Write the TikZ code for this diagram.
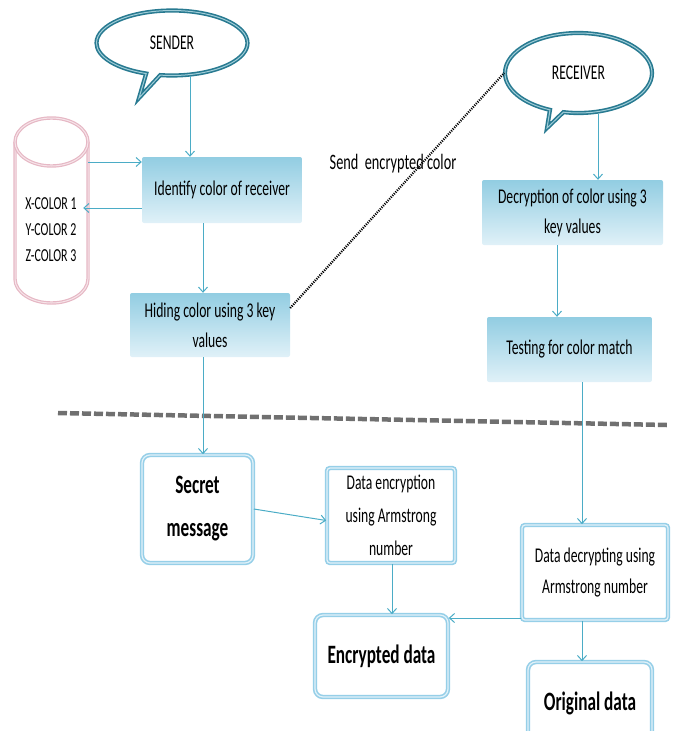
\documentclass[tikz,border=0pt]{standalone}
\usepackage{fontspec}
\setmainfont{Carlito}
\newfontfamily\cf[FakeStretch=0.65]{Carlito}
\usetikzlibrary{shapes.callouts,arrows.meta,calc}
\definecolor{arrc}{RGB}{75,172,198}
\definecolor{tealc}{RGB}{40,122,145}
\definecolor{tealin}{RGB}{160,205,216}
\definecolor{boxtop}{RGB}{146,205,226}
\definecolor{boxbot}{RGB}{224,241,248}
\definecolor{bline}{RGB}{150,207,232}
\definecolor{binner}{RGB}{226,242,249}
\definecolor{pinkc}{RGB}{230,184,197}
\definecolor{pinkin}{RGB}{246,228,233}
\definecolor{dashg}{RGB}{112,112,112}
\begin{document}
\begin{tikzpicture}[x=1pt,y=-1pt,
  txt/.style={font=\cf\fontsize{21}{30}\selectfont, align=center, inner sep=0pt, text=black},
  btxt/.style={font=\cf\bfseries\fontsize{26.5}{43}\selectfont, align=center, inner sep=0pt, text=black},
  gbox/.style={txt, rectangle, rounded corners=2pt, top color=boxtop, bottom color=boxbot},
  bbox/.style={rectangle, draw=bline, line width=1.6pt, double=binner, double distance=1.2pt, fill=white, rounded corners=#1},
  bbox/.default=3pt,
  bubble/.style={txt, ellipse callout, callout pointer arc=11, draw=tealc, line width=1.6pt, double=tealin, double distance=1pt, fill=white},
  arr/.style={draw=arrc, line width=1pt, -{Straight Barb[length=5pt,width=9pt]}},
  dbline/.style={draw=pinkc, line width=1.2pt, double=pinkin, double distance=1pt}
]
\useasboundingbox (0,0) rectangle (677,731);
\clip (0,0) rectangle (677,731);

% callouts
\node[bubble, minimum width=151pt, minimum height=65pt, callout absolute pointer={(139,98)}] (send) at (172,43) {SENDER};
\node[bubble, minimum width=147pt, minimum height=80pt, callout absolute pointer={(547,128)}] (recv) at (578.5,73) {RECEIVER};

% upper boxes
\node[gbox, minimum width=160pt, minimum height=66pt] (ident) at (222,190) {Identify color of receiver};
\node[gbox, minimum width=160pt, minimum height=64pt, text depth=-6pt] (hide) at (210,325) {Hiding color using 3 key\\values};
\node[gbox, minimum width=181pt, minimum height=65pt] (decr) at (572.5,212.5) {Decryption of color using 3\\key values};
\node[gbox, minimum width=165pt, minimum height=65pt] (test) at (569.5,349.5) {Testing for color match};

% cylinder
\node[minimum width=73pt, minimum height=185pt, inner sep=0pt] (db) at (51.5,210.5) {};
\draw[dbline] (15,142) -- (15,279) arc[start angle=180, end angle=360, x radius=36.5pt, y radius=24pt] -- (88,142);
\draw[dbline] (51.5,142) ellipse[x radius=36.5pt, y radius=24pt];
\node[font=\cf\fontsize{18.3}{26}\selectfont, align=center, inner sep=0pt] (dbtxt) at (51,230) {X-COLOR 1\\Y-COLOR 2\\Z-COLOR 3};

% lower boxes
\node[bbox=8pt, btxt, minimum width=111pt, minimum height=108pt] (secret) at (197.5,509) {Secret\\message};
\node[bbox, txt, font=\cf\fontsize{21}{33}\selectfont, minimum width=128pt, minimum height=95pt] (denc) at (391,515.5) {Data encryption\\using Armstrong\\number};
\node[bbox=8pt, btxt, minimum width=133pt, minimum height=82pt] (encd) at (381.5,656) {Encrypted data};
\node[bbox, txt, font=\cf\fontsize{21}{31}\selectfont, minimum width=146pt, minimum height=95pt] (ddec) at (595,572.5) {Data decrypting using\\Armstrong number};
\node[bbox=8pt, btxt, minimum width=124pt, minimum height=82pt] (orig) at (590,703) {Original data};

% label
\node[txt, font=\cf\fontsize{22}{30}\selectfont] (lbl) at (393,164) {Send\ \ encrypted color};

% separator
\coordinate (sepL) at (58,413);
\coordinate (sepR) at (667,425);
\draw[dashg, line width=4.5pt, dash pattern=on 9pt off 3pt] (sepL) -- (sepR);

% dotted connector
\draw[black, line width=2.2pt, dash pattern=on 1.1pt off 1.2pt] ([yshift=17pt]hide.east) -- (recv.west);

% arrows
\coordinate (xa) at (190,0);
\coordinate (xb) at (203,0);
\coordinate (xc) at (598,0);
\coordinate (xd) at (557,0);
\coordinate (xe) at (582,0);
\coordinate (xf) at (392,0);
\coordinate (ya) at (0,162);
\coordinate (yb) at (0,208);
\coordinate (yc) at (0,618);
\draw[arr] (send.south -| xa) -- (ident.north -| xa);
\draw[arr] (db.east |- ya) -- (ident.west |- ya);
\draw[arr] (ident.west |- yb) -- ([xshift=-5pt]db.east |- yb);
\draw[arr] (ident.south -| xb) -- (hide.north -| xb);
\draw[arr] (hide.south -| xb) -- (secret.north -| xb);
\draw[arr] (recv.south -| xc) -- (decr.north -| xc);
\draw[arr] (decr.south -| xd) -- (test.north -| xd);
\draw[arr] (test.south -| xe) -- (ddec.north -| xe);
\draw[arr] (secret.east) -- ([yshift=-5pt]denc.west);
\draw[arr] (denc.south -| xf) -- (encd.north -| xf);
\draw[arr] (ddec.west |- yc) -- (encd.east |- yc);
\draw[arr] (ddec.south -| xe) -- (orig.north -| xe);
\end{tikzpicture}
\end{document}
